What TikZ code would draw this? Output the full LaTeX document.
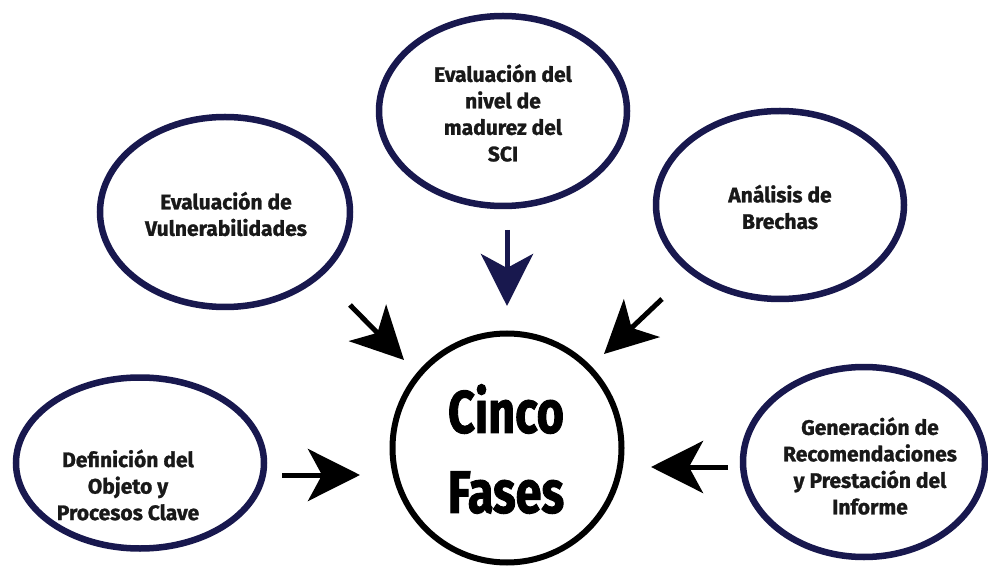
\documentclass[tikz,border=0pt]{standalone}
\usepackage{fontspec}
\setmainfont{Fira Sans}
\newfontfamily\lblfont[FakeBold=1.2]{Fira Sans}
\newfontfamily\condfont[FakeStretch=0.78,FakeBold=1.5]{Fira Sans}
\usetikzlibrary{shapes.geometric,arrows.meta}
\definecolor{navyc}{RGB}{24,24,78}
\tikzset{
  oval/.style={ellipse, draw=navyc, line width=6.5pt, inner sep=0pt},
  hub/.style={circle, draw=black, line width=6pt, inner sep=0pt, minimum size=229pt},
  lbl/.style={align=center, font=\lblfont\fontsize{21}{26.5}\selectfont\bfseries, text=black!90},
  flow/.style={line width=5pt, -{Stealth[length=52pt,width=52pt,inset=14pt]}},
}
\begin{document}
\begin{tikzpicture}[x=1pt,y=-1pt]
\useasboundingbox[fill=white] (0,0) rectangle (988,569);
% central circle
\node[hub] (hub) at (507,448) {};
\node[align=center, font=\condfont\fontsize{60}{80}\selectfont\bfseries] (hubt) at (506,449) {Cinco\\Fases};
% ellipses
\node[oval, minimum width=250pt, minimum height=190pt] (vul) at (225,212) {};
\node[lbl] (vult) at (226,214) {Evaluación de\\Vulnerabilidades};
\node[oval, minimum width=248pt, minimum height=190pt] (niv) at (503,111) {};
\node[lbl] (nivt) at (503,113) {Evaluación del\\nivel de\\madurez del\\SCI};
\node[oval, minimum width=248pt, minimum height=188pt] (bre) at (780,205) {};
\node[lbl] (bret) at (780,207) {Análisis de\\Brechas};
\node[oval, minimum width=248pt, minimum height=171pt] (def) at (140,463) {};
\node[lbl] (deft) at (128,485) {Definición del\\Objeto y\\Procesos Clave};
\node[oval, minimum width=242pt, minimum height=190pt] (gen) at (864,462) {};
\node[lbl] (gent) at (870,466) {Generación de\\Recomendaciones\\y Prestación del\\Informe};
% arrows
\coordinate (a1s) at (282,475); \coordinate (a1e) at (360,475);
\coordinate (a2s) at (728,467); \coordinate (a2e) at (651,467);
\coordinate (a3s) at (350,305); \coordinate (a3e) at (404,360);
\coordinate (a4s) at (507,230); \coordinate (a4e) at (507,306);
\coordinate (a5s) at (662,299); \coordinate (a5e) at (604,354);
\draw[flow] (a1s) -- (a1e);
\draw[flow] (a2s) -- (a2e);
\draw[flow] (a3s) -- (a3e);
\draw[flow, draw=navyc, fill=navyc] (a4s) -- (a4e);
\draw[flow] (a5s) -- (a5e);
\end{tikzpicture}
\end{document}
